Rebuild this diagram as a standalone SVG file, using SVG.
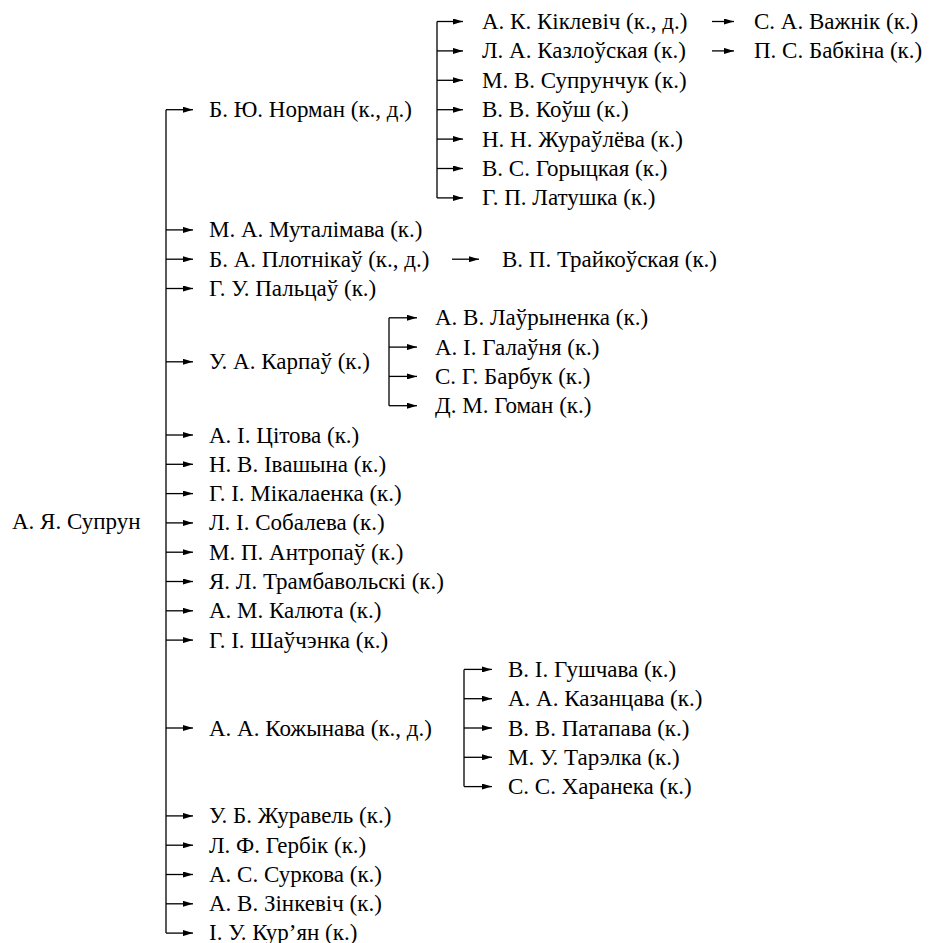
<svg xmlns="http://www.w3.org/2000/svg" width="933" height="943" viewBox="0 0 933 943">
<defs>
<marker id="ah" markerUnits="userSpaceOnUse" markerWidth="10" markerHeight="6" refX="10" refY="3" orient="auto"><path d="M0,0 L10,3 L0,6 z" fill="#000"/></marker>
</defs>
<rect width="933" height="943" fill="#fff"/>
<g id="connectors" stroke="#000" stroke-width="1.3" fill="none">
<g id="trunks">
<path d="M166,109.7 V933.1"/>
<path d="M437,21.5 V197.9"/>
<path d="M389,317.8 V405.7"/>
<path d="M464,669.4 V786.6"/>
</g>
<g id="arrows" marker-end="url(#ah)">
<line x1="166" y1="109.7" x2="193" y2="109.7"/>
<line x1="166" y1="229.9" x2="193" y2="229.9"/>
<line x1="166" y1="259.2" x2="193" y2="259.2"/>
<line x1="166" y1="288.5" x2="193" y2="288.5"/>
<line x1="166" y1="361.8" x2="193" y2="361.8"/>
<line x1="166" y1="435" x2="193" y2="435"/>
<line x1="166" y1="464.3" x2="193" y2="464.3"/>
<line x1="166" y1="493.6" x2="193" y2="493.6"/>
<line x1="166" y1="522.9" x2="193" y2="522.9"/>
<line x1="166" y1="552.2" x2="193" y2="552.2"/>
<line x1="166" y1="581.5" x2="193" y2="581.5"/>
<line x1="166" y1="610.8" x2="193" y2="610.8"/>
<line x1="166" y1="640.1" x2="193" y2="640.1"/>
<line x1="166" y1="728" x2="193" y2="728"/>
<line x1="166" y1="815.9" x2="193" y2="815.9"/>
<line x1="166" y1="845.2" x2="193" y2="845.2"/>
<line x1="166" y1="874.5" x2="193" y2="874.5"/>
<line x1="166" y1="903.8" x2="193" y2="903.8"/>
<line x1="166" y1="933.1" x2="193" y2="933.1"/>
<line x1="437" y1="21.5" x2="463" y2="21.5"/>
<line x1="437" y1="50.9" x2="463" y2="50.9"/>
<line x1="437" y1="80.3" x2="463" y2="80.3"/>
<line x1="437" y1="109.7" x2="463" y2="109.7"/>
<line x1="437" y1="139.1" x2="463" y2="139.1"/>
<line x1="437" y1="168.5" x2="463" y2="168.5"/>
<line x1="437" y1="197.9" x2="463" y2="197.9"/>
<line x1="712" y1="21.5" x2="734" y2="21.5"/>
<line x1="712" y1="50.9" x2="734" y2="50.9"/>
<line x1="452" y1="259.2" x2="479" y2="259.2"/>
<line x1="389" y1="317.8" x2="417" y2="317.8"/>
<line x1="389" y1="347.1" x2="417" y2="347.1"/>
<line x1="389" y1="376.4" x2="417" y2="376.4"/>
<line x1="389" y1="405.7" x2="417" y2="405.7"/>
<line x1="464" y1="669.4" x2="492" y2="669.4"/>
<line x1="464" y1="698.7" x2="492" y2="698.7"/>
<line x1="464" y1="728" x2="492" y2="728"/>
<line x1="464" y1="757.3" x2="492" y2="757.3"/>
<line x1="464" y1="786.6" x2="492" y2="786.6"/>
</g>
</g>
<g id="nodes" font-family="Liberation Serif, Times New Roman, DejaVu Serif, serif" font-size="23" fill="#000">
<g id="n0"><text x="12" y="528.5">А. Я. Супрун</text></g>
<g id="n1"><text x="209" y="117.2">Б. Ю. Норман (к., д.)</text></g>
<g id="n1a"><text x="482" y="29">А. К. Кіклевіч (к., д.)</text></g>
<g id="n1a1"><text x="754" y="29">С. А. Важнік (к.)</text></g>
<g id="n1b"><text x="482" y="58.4">Л. А. Казлоўская (к.)</text></g>
<g id="n1b1"><text x="754" y="58.4">П. С. Бабкіна (к.)</text></g>
<g id="n1c"><text x="482" y="87.8">М. В. Супрунчук (к.)</text></g>
<g id="n1d"><text x="482" y="117.2">В. В. Коўш (к.)</text></g>
<g id="n1e"><text x="482" y="146.6">Н. Н. Жураўлёва (к.)</text></g>
<g id="n1f"><text x="482" y="176">В. С. Горыцкая (к.)</text></g>
<g id="n1g"><text x="482" y="205.4">Г. П. Латушка (к.)</text></g>
<g id="n2"><text x="209" y="237.4">М. А. Муталімава (к.)</text></g>
<g id="n3"><text x="209" y="266.7">Б. А. Плотнікаў (к., д.)</text></g>
<g id="n3a"><text x="502" y="266.7">В. П. Трайкоўская (к.)</text></g>
<g id="n4"><text x="209" y="296">Г. У. Пальцаў (к.)</text></g>
<g id="n5"><text x="209" y="369.3">У. А. Карпаў (к.)</text></g>
<g id="n5a"><text x="435" y="325.3">А. В. Лаўрыненка (к.)</text></g>
<g id="n5b"><text x="435" y="354.6">А. І. Галаўня (к.)</text></g>
<g id="n5c"><text x="435" y="383.9">С. Г. Барбук (к.)</text></g>
<g id="n5d"><text x="435" y="413.2">Д. М. Гоман (к.)</text></g>
<g id="n6"><text x="209" y="442.5">А. І. Цітова (к.)</text></g>
<g id="n7"><text x="209" y="471.8">Н. В. Івашына (к.)</text></g>
<g id="n8"><text x="209" y="501.1">Г. І. Мікалаенка (к.)</text></g>
<g id="n9"><text x="209" y="530.4">Л. І. Собалева (к.)</text></g>
<g id="n10"><text x="209" y="559.7">М. П. Антропаў (к.)</text></g>
<g id="n11"><text x="209" y="589">Я. Л. Трамбавольскі (к.)</text></g>
<g id="n12"><text x="209" y="618.3">А. М. Калюта (к.)</text></g>
<g id="n13"><text x="209" y="647.6">Г. І. Шаўчэнка (к.)</text></g>
<g id="n14"><text x="209" y="735.5">А. А. Кожынава (к., д.)</text></g>
<g id="n14a"><text x="508" y="676.9">В. І. Гушчава (к.)</text></g>
<g id="n14b"><text x="508" y="706.2">А. А. Казанцава (к.)</text></g>
<g id="n14c"><text x="508" y="735.5">В. В. Патапава (к.)</text></g>
<g id="n14d"><text x="508" y="764.8">М. У. Тарэлка (к.)</text></g>
<g id="n14e"><text x="508" y="794.1">С. С. Харанека (к.)</text></g>
<g id="n15"><text x="209" y="823.4">У. Б. Журавель (к.)</text></g>
<g id="n16"><text x="209" y="852.7">Л. Ф. Гербік (к.)</text></g>
<g id="n17"><text x="209" y="882">А. С. Суркова (к.)</text></g>
<g id="n18"><text x="209" y="911.3">А. В. Зінкевіч (к.)</text></g>
<g id="n19"><text x="209" y="939.5">І. У. Кур’ян (к.)</text></g>
</g>
</svg>
